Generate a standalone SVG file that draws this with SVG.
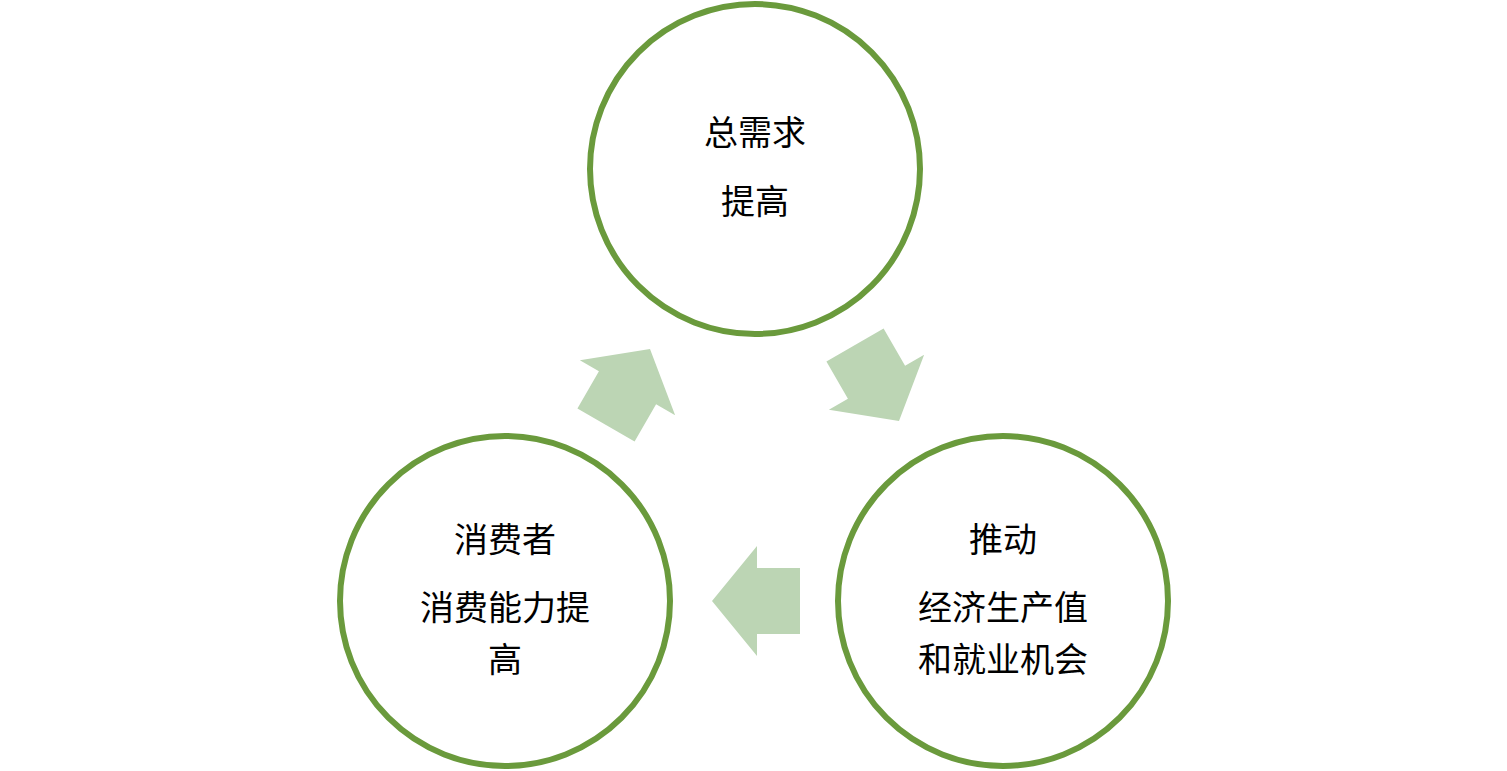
<svg xmlns="http://www.w3.org/2000/svg" width="1507" height="771" viewBox="0 0 1507 771">
<style>
.c{fill:#fff;stroke:#6a9a3c;stroke-width:6}
.t{font-family:"Liberation Sans","Noto Sans CJK SC",sans-serif;font-size:34px;fill:#000;text-anchor:middle}
.a{fill:#bcd5b4}
</style>
<defs><polygon id="arr" points="44,0 -1,-55 -1,-33 -44,-33 -44,33 -1,33 -1,55"/></defs>
<rect width="1507" height="771" fill="#fff"/>
<g id="connectors">
<use href="#arr" class="a" transform="translate(628,387) rotate(-60)"/>
<use href="#arr" class="a" transform="translate(877,383) rotate(60)"/>
<use href="#arr" class="a" transform="translate(756,601) rotate(180)"/>
</g>
<g id="n1"><circle class="c" cx="755" cy="169" r="165"/>
<text class="t" x="755" y="145">总需求</text><text class="t" x="755" y="214">提高</text></g>
<g id="n2"><circle class="c" cx="505" cy="601" r="165"/>
<text class="t" x="505" y="552">消费者</text><text class="t" x="505" y="620">消费能力提</text><text class="t" x="505" y="672">高</text></g>
<g id="n3"><circle class="c" cx="1003" cy="601" r="165"/>
<text class="t" x="1003" y="552">推动</text><text class="t" x="1003" y="620">经济生产值</text><text class="t" x="1003" y="672">和就业机会</text></g>
</svg>
